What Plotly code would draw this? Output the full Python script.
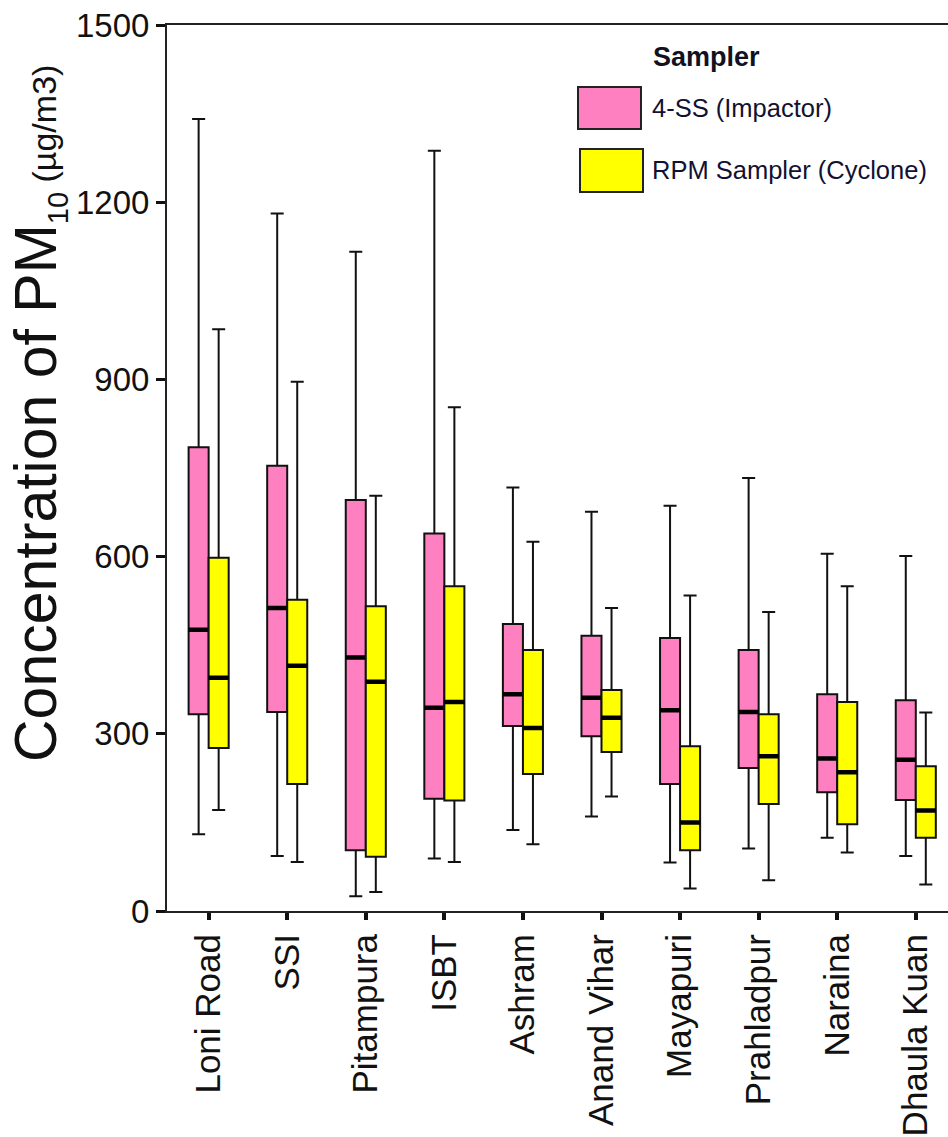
import plotly.graph_objects as go

sites = ["Loni Road", "SSI", "Pitampura", "ISBT", "Ashram", "Anand Vihar",
         "Mayapuri", "Prahladpur", "Naraina", "Dhaula Kuan"]

# 4-SS (Impactor)
imp_low = [130, 93, 25, 89, 137, 160, 82, 106, 124, 93]
imp_q1 = [333, 337, 103, 190, 313, 296, 215, 242, 201, 188]
imp_med = [476, 513, 429, 344, 367, 361, 340, 337, 258, 256]
imp_q3 = [785, 754, 696, 639, 486, 466, 462, 442, 367, 357]
imp_high = [1341, 1181, 1116, 1287, 717, 676, 686, 733, 605, 601]

# RPM Sampler (Cyclone)
cyc_low = [171, 83, 32, 83, 113, 194, 38, 52, 99, 45]
cyc_q1 = [276, 215, 92, 187, 232, 269, 103, 181, 147, 124]
cyc_med = [395, 415, 388, 354, 310, 327, 150, 262, 235, 170]
cyc_q3 = [598, 527, 516, 550, 442, 374, 279, 333, 354, 245]
cyc_high = [985, 896, 703, 853, 625, 513, 534, 506, 550, 336]

y_ticks = [0, 300, 600, 900, 1200, 1500]

PINK = "#FF80C0"
YELLOW = "#FFFF00"
FONT = "Arial, Liberation Sans, sans-serif"

W, H = 948, 1137
ML, MR, MT, MB = 167, 0, 25, 226
PW, PH = W - ML - MR, H - MT - MB


def px_x(px):
    return (px - ML) / PW


def px_y(py):
    return (H - MB - py) / PH


fig = go.Figure()

for name, color, lo, q1, md, q3, hi, grp in [
    ("4-SS (Impactor)", PINK, imp_low, imp_q1, imp_med, imp_q3, imp_high, "a"),
    ("RPM Sampler (Cyclone)", YELLOW, cyc_low, cyc_q1, cyc_med, cyc_q3, cyc_high, "b"),
]:
    fig.add_trace(go.Box(
        name=name, x=sites, q1=q1, median=md, q3=q3,
        lowerfence=lo, upperfence=hi,
        fillcolor=color, line=dict(color="#111111", width=2),
        whiskerwidth=0.65, offsetgroup=grp, showlegend=False,
        hoverinfo="skip", boxpoints=False,
    ))
    # thick median bar overlay
    fig.add_trace(go.Box(
        name=name + " median", x=sites, q1=md, median=md, q3=md,
        lowerfence=md, upperfence=md,
        fillcolor="#000000", line=dict(color="#000000", width=4.5),
        whiskerwidth=0, offsetgroup=grp, showlegend=False,
        hoverinfo="skip", boxpoints=False,
    ))

# custom legend
legend_items = [
    ("4-SS (Impactor)", PINK, (578, 87, 641, 129), 108),
    ("RPM Sampler (Cyclone)", YELLOW, (580, 149, 643, 192), 170),
]
for label, color, (x0, y0, x1, y1), ty in legend_items:
    fig.add_shape(type="rect", xref="paper", yref="paper",
                  x0=px_x(x0), x1=px_x(x1), y0=px_y(y1), y1=px_y(y0),
                  fillcolor=color, line=dict(color="#222222", width=2))
    fig.add_annotation(xref="paper", yref="paper", x=px_x(650), y=px_y(ty),
                       xanchor="left", yanchor="middle", showarrow=False,
                       text=label, font=dict(family=FONT, size=25.5, color="#111133"))
fig.add_annotation(xref="paper", yref="paper", x=px_x(706), y=px_y(57),
                   xanchor="center", yanchor="middle", showarrow=False,
                   text="<b>Sampler</b>", font=dict(family=FONT, size=27, color="#111122"))

# y-axis title
fig.add_annotation(
    xref="paper", yref="paper", x=px_x(38), y=px_y(414),
    xanchor="center", yanchor="middle", showarrow=False, textangle=-90,
    text=("Concentration of PM<sub><span style='font-size:29px'>10</span></sub>"
          "<span style='font-size:34px'> (\u00b5g/m3)</span>"),
    font=dict(family=FONT, size=59, color="#111111"),
)

fig.update_layout(
    width=W, height=H,
    margin=dict(l=ML, r=MR, t=MT, b=MB, autoexpand=False),
    paper_bgcolor="white", plot_bgcolor="white",
    boxmode="group", boxgap=0.49, boxgroupgap=0,
    font=dict(family=FONT, color="#111111"),
    showlegend=False,
)
fig.update_xaxes(
    type="category", categoryorder="array", categoryarray=sites,
    range=[-0.53, 9.41],
    showline=True, linecolor="#222222", linewidth=2, mirror=True,
    ticks="outside", ticklen=7, tickwidth=4, tickcolor="#111111",
    tickangle=-90, tickfont=dict(family=FONT, size=35, color="#111111"),
    showgrid=False, zeroline=False,
)
fig.update_yaxes(
    range=[0, 1500], tickvals=y_ticks, ticktext=[str(v) for v in y_ticks],
    showline=True, linecolor="#222222", linewidth=2,
    ticks="outside", ticklen=9, tickwidth=3, tickcolor="#111111",
    tickfont=dict(family=FONT, size=33, color="#111111"),
    showgrid=False, zeroline=False,
)

fig.write_html("out.html", config={"displayModeBar": False},
               post_script="document.body.style.margin='0';document.body.style.overflow='hidden';")
